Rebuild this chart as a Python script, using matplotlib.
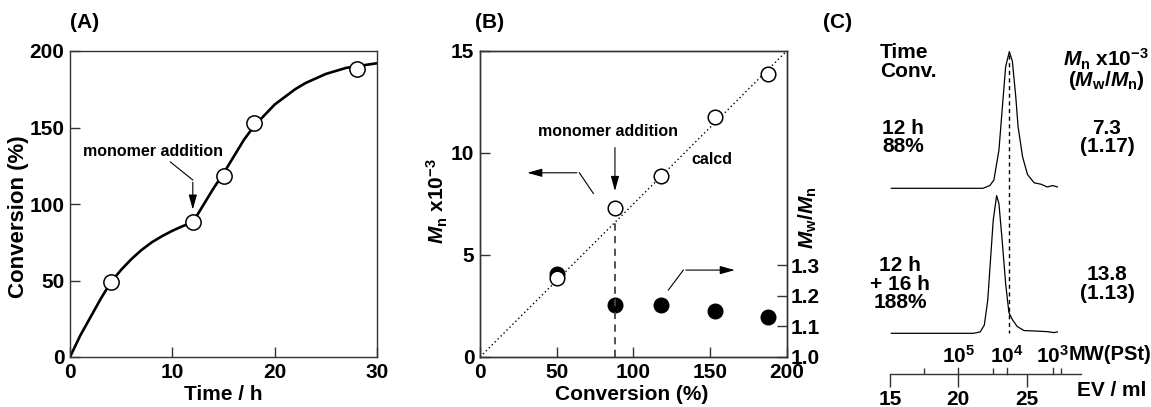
import matplotlib.pyplot as plt
import numpy as np

plt.rcParams['font.family'] = ['Liberation Sans', 'DejaVu Sans']
plt.rcParams['font.weight'] = 'bold'
plt.rcParams['mathtext.fontset'] = 'custom'
plt.rcParams['mathtext.rm'] = 'Liberation Sans:bold'
plt.rcParams['mathtext.it'] = 'Liberation Sans:bold:italic'
plt.rcParams['mathtext.bf'] = 'Liberation Sans:bold'

# (A) conversion vs time
time_h = [4, 12, 15, 18, 28]
conv_pct = [49, 88, 118, 153, 188]
fit1_t = [0, 1, 2, 3, 4, 5, 6, 7, 8, 9, 10, 11, 12]
fit1_c = [0, 14, 26, 38, 49, 57, 64, 70, 75, 79, 82.5, 85.5, 88]
fit2_t = [12, 13, 14, 15, 16, 17, 18, 19, 20, 21, 22, 23, 24, 25, 26, 27, 28, 29, 30]
fit2_c = [88, 99, 110, 120, 131, 142, 151, 158, 165, 170, 175, 179, 182, 185, 187, 189, 190, 191, 192]

# (B) Mn and Mw/Mn vs conversion
mn_conv = [50, 88, 118, 153, 188]
mn_k = [3.85, 7.3, 8.85, 11.75, 13.85]
pdi = [1.27, 1.17, 1.17, 1.15, 1.13]
calcd_conv = [0, 200]
calcd_mn = [0, 15]
addition_conv = 88

# (C) SEC traces, intensity normalised to peak
ev_up = [15.1, 21.8, 22.3, 22.6, 22.97, 23.2, 23.46, 23.73, 23.95, 24.2, 24.37, 24.7, 25.06, 25.55, 26.04, 26.5, 26.9, 27.24]
int_up = [0, 0, 0.02, 0.06, 0.28, 0.57, 0.89, 1.0, 0.93, 0.67, 0.45, 0.23, 0.10, 0.04, 0.03, 0.01, 0.02, 0.01]
ev_lo = [15.1, 21.1, 21.6, 21.9, 22.15, 22.35, 22.55, 22.8, 22.97, 23.2, 23.46, 23.7, 23.95, 24.3, 24.8, 25.55, 26.5, 27.0, 27.24]
int_lo = [0, 0, 0.01, 0.06, 0.24, 0.53, 0.82, 1.0, 0.94, 0.68, 0.36, 0.15, 0.10, 0.05, 0.02, 0.017, 0.012, 0.005, 0.01]
mw_labels = [r'$10^{5}$', r'$10^{4}$', r'$10^{3}$']
mw_ev = [20.0, 23.55, 26.9]
ev_ticks = [15, 20, 25]
ev_minor = [17.5, 22.5, 27.5]
peak_ev = 23.7

W, H = 1151, 407
fig = plt.figure(figsize=(W / 100, H / 100), dpi=100)
FS = 15


def ftext(x, y, s, **kw):
    fig.text(x / W, 1 - y / H, s, **kw)


def style(ax):
    for sp in ax.spines.values():
        sp.set_linewidth(1.0)
        sp.set_color('#333333')
    ax.tick_params(direction='in', length=7, width=1, labelsize=FS, pad=4, colors='#333333', labelcolor='k')


arrow = dict(arrowstyle='-|>,head_length=0.9,head_width=0.25', mutation_scale=10, lw=0.8, color='k')

# ---------- (A)
axA = fig.add_axes([70 / W, 1 - 357 / H, 307 / W, 306 / H])
style(axA)
axA.plot(fit1_t, fit1_c, color='k', lw=1.9)
axA.plot(fit2_t, fit2_c, color='k', lw=1.9)
axA.plot(time_h, conv_pct, 'o', ms=11, mfc='white', mec='k', mew=1.1, zorder=5)
axA.set_xlim(0, 30)
axA.set_ylim(0, 200)
axA.set_xticks([0, 10, 20, 30])
axA.set_yticks([0, 50, 100, 150, 200])
axA.text(8.1, 134, 'monomer addition', fontsize=11.5, ha='center', va='center')
axA.plot([9.8, 12], [127.5, 115.7], color='k', lw=0.8)
axA.annotate('', xy=(12, 94.5), xytext=(12, 116), arrowprops=arrow)
ftext(19, 217, 'Conversion (%)', fontsize=16, rotation=90, ha='center', va='center')
ftext(223, 395, 'Time / h', fontsize=FS, ha='center', va='center')
ftext(85, 23, '(A)', fontsize=FS, ha='center', va='center')

# ---------- (B)
axB = fig.add_axes([480 / W, 1 - 357 / H, 306.7 / W, 306 / H])
axR = axB.twinx()
style(axB)
style(axR)
axB.set_zorder(axR.get_zorder() + 1)
axB.patch.set_visible(False)
axR.plot(mn_conv, pdi, 'o', ms=10.5, color='k')
axR.set_ylim(1.0, 2.0)
axR.set_yticks([1.0, 1.1, 1.2, 1.3])
axR.set_yticklabels(['1.0', '1.1', '1.2', '1.3'])
axR.tick_params(pad=3)
axB.plot(calcd_conv, calcd_mn, color='k', lw=1.0, ls=(0, (1, 2)))
axB.plot([addition_conv, addition_conv], [0, 6.8], color='#444444', lw=1.3, ls=(0, (4, 3)))
axB.plot(mn_conv, mn_k, 'o', ms=10.5, mfc='white', mec='k', mew=1.1, zorder=5)
axB.set_xlim(0, 200)
axB.set_ylim(0, 15)
axB.set_xticks([0, 50, 100, 150, 200])
axB.set_yticks([0, 5, 10, 15])
axB.text(83.5, 11.04, 'monomer addition', fontsize=11.5, ha='center', va='center')
axB.annotate('', xy=(addition_conv, 8.0), xytext=(addition_conv, 10.4), arrowprops=arrow)
axB.text(151, 9.7, 'calcd', fontsize=11.5, ha='center', va='center')
axB.plot([73.9, 64.8], [8.02, 9.03], color='k', lw=0.8)
axB.annotate('', xy=(29, 9.03), xytext=(65, 9.03), arrowprops=arrow)
axB.plot([122.8, 132.6], [3.28, 4.26], color='k', lw=0.8)
axB.annotate('', xy=(168, 4.26), xytext=(132.4, 4.26), arrowprops=arrow)
ftext(437, 201, r'$M_{\rm n}$ x10$^{-3}$', fontsize=FS, rotation=90, ha='center', va='center')
ftext(808, 218, r'$M_{\rm w}/M_{\rm n}$', fontsize=FS, rotation=90, ha='center', va='center')
ftext(632, 395, 'Conversion (%)', fontsize=FS, ha='center', va='center')
ftext(490, 23, '(B)', fontsize=FS, ha='center', va='center')

# ---------- (C)
ev_px = 13.67
axC = fig.add_axes([870 / W, 1 - 374.3 / H, 281 / W, 374.3 / H])
axC.set_xlim(15 - 20 / ev_px, 15 + 261 / ev_px)
axC.set_ylim(374.3, 0)
axC.patch.set_visible(False)
for k in ['top', 'left', 'right']:
    axC.spines[k].set_visible(False)
axC.spines['bottom'].set_bounds(15, 29)
axC.spines['bottom'].set_linewidth(1.0)
axC.spines['bottom'].set_color('#333333')
axC.set_yticks([])
axC.set_xticks(ev_ticks)
axC.set_xticks(ev_minor, minor=True)
axC.tick_params(axis='x', which='major', direction='out', length=9, width=1, labelsize=FS, pad=2, color='#333333')
axC.tick_params(axis='x', which='minor', direction='in', length=4, width=1, color='#333333')
base_up, h_up = 188.3, 136.7
base_lo, h_lo = 333.3, 137.7
axC.plot(ev_up, base_up - h_up * np.array(int_up), color='k', lw=0.9)
axC.plot(ev_lo, base_lo - h_lo * np.array(int_lo), color='k', lw=0.9)
axC.plot([peak_ev, peak_ev], [55, base_lo], color='k', lw=1.0, ls=(0, (3, 2.5)))
for ev, lab in zip(mw_ev, mw_labels):
    axC.plot([ev, ev], [374.3, 368], color='#333333', lw=1.0, clip_on=False)
    axC.text(ev, 356, lab, fontsize=FS, ha='center', va='center')
ftext(1069, 355, 'MW(PSt)', fontsize=14.5, ha='left', va='center')
ftext(1112, 391, 'EV / ml', fontsize=FS, ha='center', va='center')
ftext(838, 23, '(C)', fontsize=FS, ha='center', va='center')
ftext(880, 62, 'Time\nConv.', fontsize=FS, ha='left', va='center', linespacing=0.95)
ftext(903, 137.5, '12 h\n88%', fontsize=FS, ha='center', va='center', linespacing=0.95)
ftext(900, 284, '12 h\n+ 16 h\n188%', fontsize=FS, ha='center', va='center', linespacing=0.95)
ftext(1106, 59, r'$M_{\rm n}$ x10$^{-3}$', fontsize=FS, ha='center', va='center')
ftext(1106, 81, r'($M_{\rm w}/M_{\rm n}$)', fontsize=FS, ha='center', va='center')
ftext(1107, 137.5, '7.3\n(1.17)', fontsize=FS, ha='center', va='center', linespacing=0.95)
ftext(1107, 284, '13.8\n(1.13)', fontsize=FS, ha='center', va='center', linespacing=0.95)

fig.savefig('out.png', dpi=100)
